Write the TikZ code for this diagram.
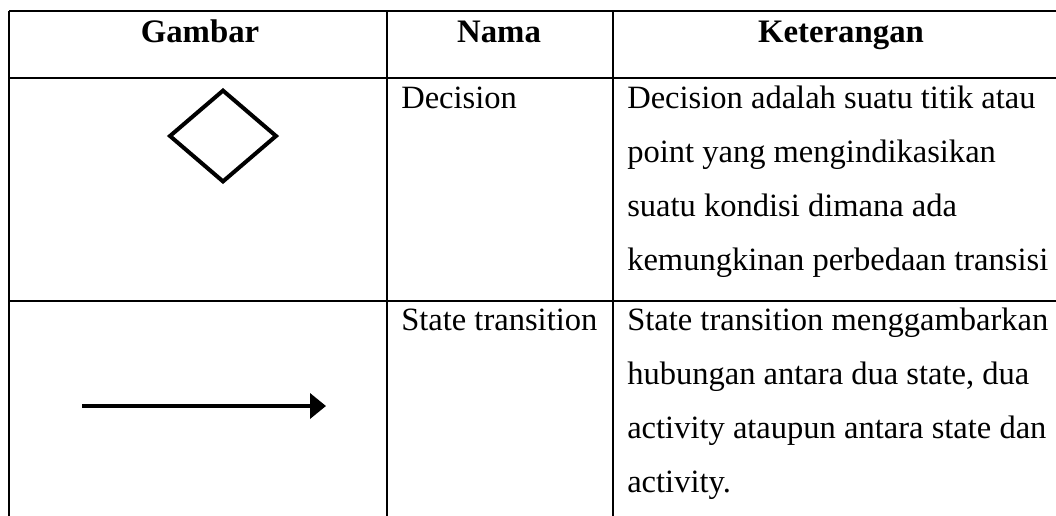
\documentclass[tikz,border=0pt]{standalone}
\usepackage{fontspec}
\setmainfont{Liberation Serif}
\usetikzlibrary{arrows.meta}
\begin{document}
\begin{tikzpicture}[x=0.75pt,y=-0.75pt,
  grid/.style={line width=1.7pt},
  txt/.style={anchor=base west,inner sep=0pt,font=\fontsize{24.4}{30}\selectfont},
  hdr/.style={anchor=base,inner sep=0pt,font=\fontsize{24.6}{30}\selectfont\bfseries},
  sym/.style={line width=3pt,line join=miter},
  arr/.style={line width=2.8pt,-{Triangle[length=12pt,width=18.75pt]}}]
\useasboundingbox (0,0) rectangle (1056,515);
% table rules
\draw[grid] (9,11) -- (1070,11);
\draw[grid] (9,78) -- (1070,78);
\draw[grid] (9,301) -- (1070,301);
\draw[grid] (9,11) -- (9,520);
\draw[grid] (387,11) -- (387,520);
\draw[grid] (613,11) -- (613,520);
% header
\node[hdr] (hG) at (200,42) {Gambar};
\node[hdr] (hN) at (499,42) {Nama};
\node[hdr] (hK) at (841,42) {Keterangan};
% row 1
\draw[sym] (223,90.6) -- (276,136) -- (223,181.4) -- (170,136) -- cycle;
\node[txt] (n1) at (401,108) {Decision};
\node[txt] (k1a) at (627,108) {Decision adalah suatu titik atau};
\node[txt] (k1b) at (627,162) {point yang mengindikasikan};
\node[txt] (k1c) at (627,216) {suatu kondisi dimana ada};
\node[txt] (k1d) at (627,270) {kemungkinan perbedaan transisi};
% row 2
\coordinate (arS) at (82,406);
\coordinate (arE) at (326,406);
\draw[arr] (arS) -- (arE);
\node[txt] (n2) at (401,330) {State transition};
\node[txt] (k2a) at (627,330) {State transition menggambarkan};
\node[txt] (k2b) at (627,384) {hubungan antara dua state, dua};
\node[txt] (k2c) at (627,438) {activity ataupun antara state dan};
\node[txt] (k2d) at (627,492) {activity.};
\end{tikzpicture}
\end{document}
